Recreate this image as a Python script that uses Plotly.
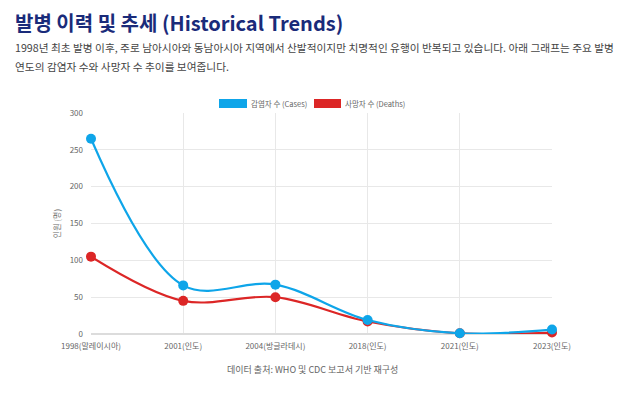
import plotly.graph_objects as go

categories = ["1998(말레이시아)", "2001(인도)", "2004(방글라데시)", "2018(인도)", "2021(인도)", "2023(인도)"]
cases = [265, 66, 67, 19, 1, 6]
deaths = [105, 45, 50, 17, 1, 2]
y_ticks = [0, 50, 100, 150, 200, 250, 300]

# page is 624x394, body has 8px margin
OFF = 8
W, H = 624 - 2 * OFF, 394 - 2 * OFF
L, R, T, B = 91 - OFF, 616 - 552, 113 - OFF, (394 - OFF) - 334
PH = H - T - B
PW = W - L - R

def px_y(y):
    return ((H + OFF) - B - y) / PH

def px_x(x):
    return (x - OFF - L) / PW

FONT = "Noto Sans CJK KR"
BLUE = "#0ea5e9"
RED = "#dc2626"

xs = list(range(len(categories)))

fig = go.Figure()
fig.add_trace(go.Scatter(
    x=xs, y=deaths, mode="lines+markers", name="사망자 수 (Deaths)",
    line=dict(color=RED, width=2.2, shape="spline", smoothing=1.0),
    marker=dict(color=RED, size=10), showlegend=False, cliponaxis=False))
fig.add_trace(go.Scatter(
    x=xs, y=cases, mode="lines+markers", name="감염자 수 (Cases)",
    line=dict(color=BLUE, width=2.2, shape="spline", smoothing=1.0),
    marker=dict(color=BLUE, size=10), showlegend=False, cliponaxis=False))

fig.update_xaxes(
    range=[0, len(categories) - 1], tickvals=xs, ticktext=categories,
    showgrid=True, gridcolor="#e8e8e8", gridwidth=1, zeroline=False,
    showline=False, ticks="", ticklabelstandoff=6,
    tickfont=dict(family=FONT, size=8, color="#666"),
    fixedrange=True)
fig.update_yaxes(
    range=[0, 300], tickvals=y_ticks, showgrid=True, gridcolor="#e8e8e8",
    zeroline=True, zerolinecolor="#dcdcdc", zerolinewidth=1.5, showline=False,
    ticks="", ticklabelstandoff=7, tickfont=dict(family=FONT, size=8, color="#666"),
    title=dict(text="인원 (명)", font=dict(family=FONT, size=8, color="#666"), standoff=7),
    fixedrange=True)

annotations = [
    dict(text="<b>발병 이력 및 추세 (Historical Trends)</b>", x=px_x(13), y=px_y(23),
         xanchor="left", yanchor="middle", showarrow=False,
         font=dict(family=FONT, size=20, color="#1a2b7a")),
    dict(text="1998년 최초 발병 이후, 주로 남아시아와 동남아시아 지역에서 산발적이지만 치명적인 유행이 반복되고 있습니다. 아래 그래프는 주요 발병",
         x=px_x(13), y=px_y(48), xanchor="left", yanchor="middle", showarrow=False,
         font=dict(family=FONT, size=10.7, color="#444")),
    dict(text="연도의 감염자 수와 사망자 수 추이를 보여줍니다.",
         x=px_x(13), y=px_y(66), xanchor="left", yanchor="middle", showarrow=False,
         font=dict(family=FONT, size=10.7, color="#444")),
    dict(text="감염자 수 (Cases)", x=px_x(249), y=px_y(103.5), xanchor="left", yanchor="middle",
         showarrow=False, font=dict(family=FONT, size=7.5, color="#666")),
    dict(text="사망자 수 (Deaths)", x=px_x(343), y=px_y(103.5), xanchor="left", yanchor="middle",
         showarrow=False, font=dict(family=FONT, size=7.5, color="#666")),
    dict(text="데이터 출처: WHO 및 CDC 보고서 기반 재구성", x=px_x(312), y=px_y(369),
         xanchor="center", yanchor="middle", showarrow=False,
         font=dict(family=FONT, size=9, color="#666")),
]
for a in annotations:
    a["xref"] = "paper"
    a["yref"] = "paper"

shapes = [
    dict(type="rect", xref="paper", yref="paper", x0=px_x(219), x1=px_x(247),
         y0=px_y(108), y1=px_y(99), fillcolor=BLUE, line=dict(width=0)),
    dict(type="rect", xref="paper", yref="paper", x0=px_x(314), x1=px_x(341),
         y0=px_y(108), y1=px_y(99), fillcolor=RED, line=dict(width=0)),
]

fig.update_layout(
    width=W, height=H, autosize=False,
    margin=dict(l=L, r=R, t=T, b=B),
    paper_bgcolor="white", plot_bgcolor="white",
    annotations=annotations, shapes=shapes, showlegend=False,
    font=dict(family=FONT),
)

fig.write_html("out.html", config={"displayModeBar": False})
